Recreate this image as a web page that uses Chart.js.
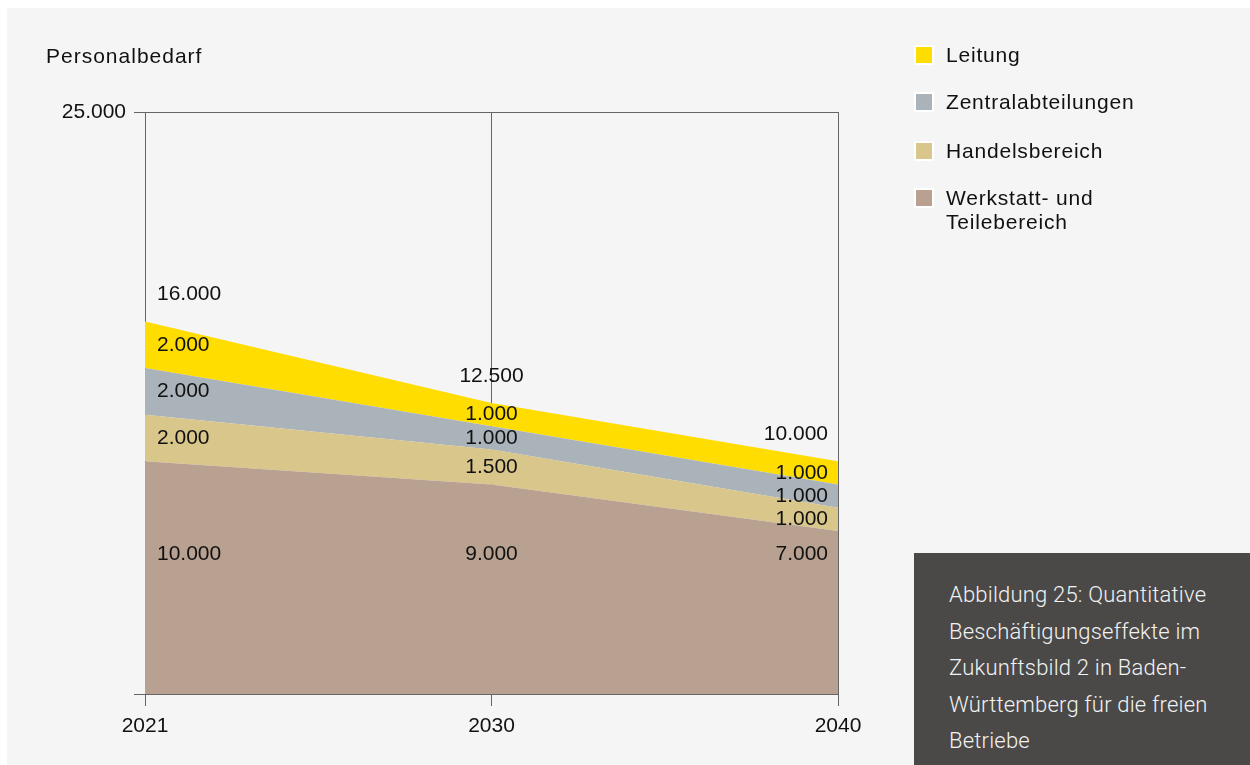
<!DOCTYPE html>
<html lang="de">
<head>
<meta charset="utf-8">
<title>Personalbedarf</title>
<script src="https://cdn.jsdelivr.net/npm/chart.js@4/dist/chart.umd.min.js"></script>
<style>
  html, body {
    margin: 0;
    padding: 0;
    background: #ffffff;
  }
  .panel {
    position: absolute;
    left: 7px;
    top: 8px;
    width: 1243px;
    height: 757px;
    background: #f5f5f5;
  }
  #chartWrap {
    position: absolute;
    left: 0;
    top: 0;
    width: 1250px;
    height: 765px;
  }
  .legend {
    position: absolute;
    left: 914px;
    top: 0;
    font-family: "Liberation Sans", Arial, sans-serif;
    font-size: 21px;
    letter-spacing: 0.8px;
    color: #111;
  }
  .legend-item {
    position: absolute;
    left: 0;
    white-space: nowrap;
  }
  .legend-box {
    position: absolute;
    left: 0;
    width: 16px;
    height: 16px;
    border: 2px solid #ffffff;
  }
  .legend-text {
    position: absolute;
    left: 32px;
    line-height: 24px;
  }
  .caption {
    position: absolute;
    left: 914px;
    top: 553px;
    width: 336px;
    height: 212px;
    box-sizing: border-box;
    padding: 24px 10px 0 35px;
    background: #4a4948;
    color: #f2f2f2;
    font-family: Roboto, "Noto Sans", sans-serif;
    font-weight: 300;
    font-size: 22px;
    letter-spacing: 0.2px;
    line-height: 36.5px;
  }
</style>
</head>
<body>
<div class="panel"></div>
<div id="chartWrap"><canvas id="chart" width="1250" height="765"></canvas></div>
<div class="legend" id="legend"></div>
<div class="caption">Abbildung 25: Quantitative<br>Beschäftigungseffekte im<br>Zukunftsbild 2 in Baden-<br>Württemberg für die freien<br>Betriebe</div>

<script>
// Jahre auf der x-Achse
const years = ['2021', '2030', '2040'];

// Personalbedarf je Bereich (von unten nach oben gestapelt)
const werkstatt = [10000, 9000, 7000];
const handel = [2000, 1500, 1000];
const zentral = [2000, 1000, 1000];
const leitung = [2000, 1000, 1000];

const seriesNames = ['Werkstatt- und Teilebereich', 'Handelsbereich', 'Zentralabteilungen', 'Leitung'];
const seriesColors = ['#b9a192', '#d8c68a', '#a9b3b9', '#ffdd00'];

// y-Achse: nur 0 und 25.000
const yTicks = [0, 25000];
const yTickLabels = ['', '25.000'];

// Legende (Reihenfolge oben nach unten)
const legendLabels = ['Leitung', 'Zentralabteilungen', 'Handelsbereich', 'Werkstatt- und\nTeilebereich'];
const legendColors = ['#ffdd00', '#a9b3b9', '#d8c68a', '#b9a192'];
const legendTops = [55, 102, 151, 198];

const FONT = '"Liberation Sans", Arial, sans-serif';

function formatNumber(v) {
  return String(v).replace(/\B(?=(\d{3})+(?!\d))/g, '.');
}

// build the html legend
const legendEl = document.getElementById('legend');
legendLabels.forEach((label, i) => {
  const item = document.createElement('div');
  item.className = 'legend-item';
  item.style.top = (legendTops[i] - 12) + 'px';

  const box = document.createElement('div');
  box.className = 'legend-box';
  box.style.background = legendColors[i];
  box.style.top = (12 - 10) + 'px';
  item.appendChild(box);

  const text = document.createElement('div');
  text.className = 'legend-text';
  text.innerHTML = label.replace('\n', '<br>');
  item.appendChild(text);

  legendEl.appendChild(item);
});

const stacks = [werkstatt, handel, zentral, leitung];

// labels inside the bands, totals above, axis title
const bandLabels = {
  id: 'bandLabels',
  afterDatasetsDraw(chart) {
    const { ctx, scales } = chart;
    const x = scales.x;
    const y = scales.y;
    ctx.save();
    ctx.font = '21px ' + FONT;
    ctx.fillStyle = '#111111';
    ctx.textBaseline = 'middle';

    years.forEach((year, i) => {
      const px = x.getPixelForValue(i);
      let align = 'center';
      let tx = px;
      if (i === 0) { align = 'left'; tx = px + 12; }
      if (i === years.length - 1) { align = 'right'; tx = px - 10; }
      ctx.textAlign = align;

      let base = 0;
      stacks.forEach((arr, s) => {
        const v = arr[i];
        let ty;
        if (s === 0) {
          // Werkstatt label sits low in the brown band
          ty = y.getPixelForValue(6000);
        } else {
          ty = y.getPixelForValue(base + v / 2);
        }
        ctx.fillText(formatNumber(v), tx, ty);
        base += v;
      });

      // total above the stack
      ctx.fillText(formatNumber(base), tx, y.getPixelForValue(base) - 27);
    });
    ctx.restore();
  },
  afterDraw(chart) {
    const { ctx } = chart;
    ctx.save();
    ctx.font = '21px ' + FONT;
    ctx.letterSpacing = '1px';
    ctx.fillStyle = '#111111';
    ctx.textAlign = 'left';
    ctx.textBaseline = 'middle';
    ctx.fillText('Personalbedarf', 46, 57);
    ctx.restore();
  }
};

const ctx = document.getElementById('chart').getContext('2d');

new Chart(ctx, {
  type: 'line',
  data: {
    labels: years,
    datasets: stacks.map((arr, i) => ({
      label: seriesNames[i],
      data: arr,
      backgroundColor: seriesColors[i],
      borderWidth: 0,
      pointRadius: 0,
      tension: 0,
      fill: i === 0 ? 'origin' : '-1'
    }))
  },
  options: {
    responsive: false,
    animation: false,
    layout: {
      padding: { top: 112, right: 412, bottom: 0, left: 0 }
    },
    plugins: {
      legend: { display: false },
      tooltip: { enabled: false },
      title: { display: false }
    },
    scales: {
      x: {
        z: 1,
        offset: false,
        grid: {
          color: '#666666',
          lineWidth: 1,
          tickLength: 12,
          drawTicks: true
        },
        border: { display: true, color: '#666666' },
        ticks: {
          color: '#111111',
          font: { family: FONT, size: 21 },
          padding: 8,
          maxRotation: 0
        },
        afterFit(scale) {
          scale.height = 71;
        }
      },
      y: {
        z: 1,
        stacked: true,
        min: yTicks[0],
        max: yTicks[yTicks.length - 1],
        afterBuildTicks(scale) {
          scale.ticks = yTicks.map(v => ({ value: v }));
        },
        grid: {
          color: '#666666',
          lineWidth: 1,
          tickLength: 11,
          drawTicks: true
        },
        border: { display: true, color: '#666666' },
        ticks: {
          color: '#111111',
          font: { family: FONT, size: 21 },
          padding: 8,
          callback: (value) => yTickLabels[yTicks.indexOf(value)]
        },
        afterFit(scale) {
          scale.width = 145;
        }
      }
    }
  },
  plugins: [bandLabels]
});
</script>
</body>
</html>
